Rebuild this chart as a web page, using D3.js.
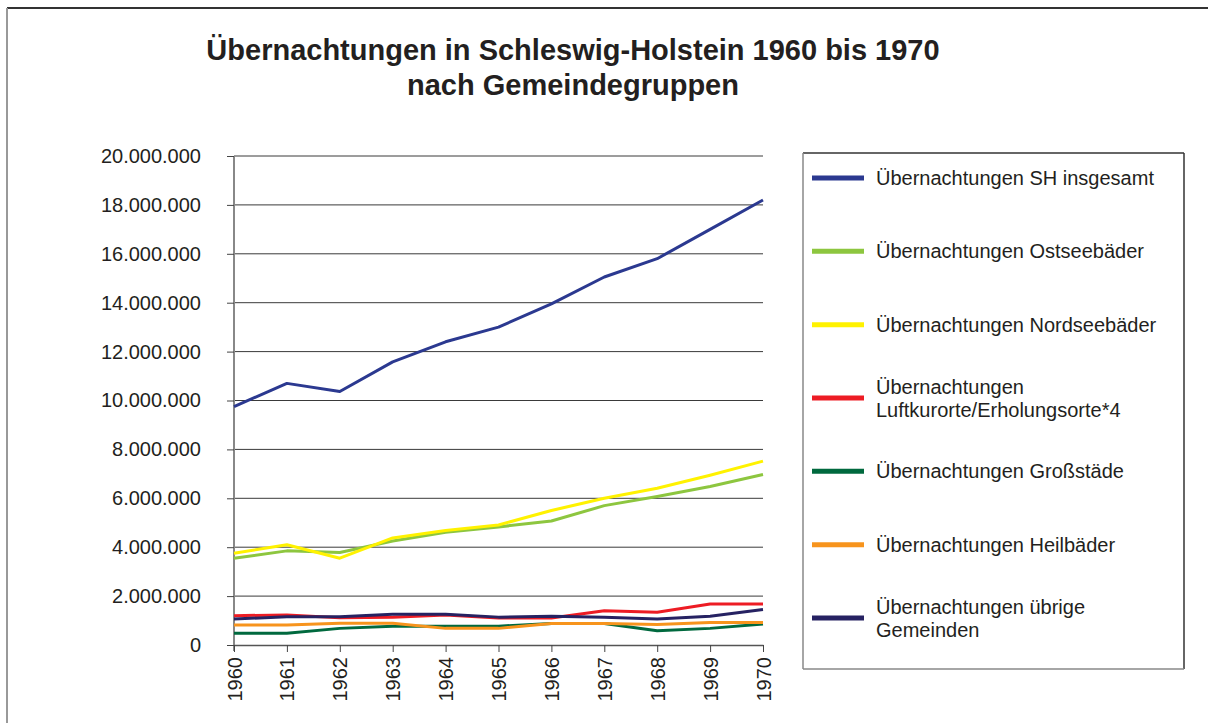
<!DOCTYPE html>
<html>
<head>
<meta charset="utf-8">
<script src="https://cdn.jsdelivr.net/npm/d3@7"></script>
<style>
  body { margin: 0; background: #fff; }
  svg text { font-family: "Liberation Sans", Arial, sans-serif; fill: #231f20; }
</style>
</head>
<body>
<div id="chart"></div>
<script>
const years = [1960, 1961, 1962, 1963, 1964, 1965, 1966, 1967, 1968, 1969, 1970];

const shInsgesamt = [9750000, 10700000, 10370000, 11580000, 12400000, 13000000, 13950000, 15050000, 15800000, 17000000, 18200000];
const ostseebaeder = [3550000, 3850000, 3780000, 4250000, 4610000, 4830000, 5070000, 5700000, 6070000, 6480000, 6970000];
const nordseebaeder = [3750000, 4100000, 3550000, 4380000, 4680000, 4910000, 5500000, 6000000, 6410000, 6940000, 7520000];
const luftkurorte = [1200000, 1230000, 1110000, 1130000, 1230000, 1100000, 1100000, 1400000, 1340000, 1680000, 1680000];
const grossstaedte = [480000, 480000, 680000, 770000, 770000, 770000, 880000, 880000, 580000, 680000, 860000];
const heilbaeder = [820000, 820000, 890000, 890000, 680000, 680000, 880000, 880000, 840000, 920000, 920000];
const uebrige = [1060000, 1160000, 1160000, 1260000, 1260000, 1140000, 1180000, 1130000, 1060000, 1180000, 1450000];

const yTicks = [0, 2000000, 4000000, 6000000, 8000000, 10000000, 12000000, 14000000, 16000000, 18000000, 20000000];

const seriesNames = [
  ['Übernachtungen SH insgesamt'],
  ['Übernachtungen Ostseebäder'],
  ['Übernachtungen Nordseebäder'],
  ['Übernachtungen', 'Luftkurorte/Erholungsorte*4'],
  ['Übernachtungen Großstäde'],
  ['Übernachtungen Heilbäder'],
  ['Übernachtungen übrige', 'Gemeinden'],
];
const seriesValues = [shInsgesamt, ostseebaeder, nordseebaeder, luftkurorte, grossstaedte, heilbaeder, uebrige];
const seriesColors = ['#2b3990', '#8dc63f', '#fff200', '#ed1c24', '#00693e', '#f7941d', '#262262'];

const size = { width: 1208, height: 723 };
const margin = { left: 234, top: 156, right: 445, bottom: 78 };

const svg = d3
  .select('#chart')
  .append('svg')
  .attr('width', size.width)
  .attr('height', size.height);

// outer frame (top and left only)
svg.append('line').attr('x1', 7).attr('x2', size.width).attr('y1', 8).attr('y2', 8)
  .attr('stroke', '#333').attr('stroke-width', 2);
svg.append('line').attr('x1', 7).attr('x2', 7).attr('y1', 8).attr('y2', size.height)
  .attr('stroke', '#999').attr('stroke-width', 2);

// title
const title = svg.append('text')
  .attr('x', 573)
  .attr('text-anchor', 'middle')
  .style('font-weight', 'bold')
  .style('font-size', '29px');
title.append('tspan').attr('x', 573).attr('y', 60).text('Übernachtungen in Schleswig-Holstein 1960 bis 1970');
title.append('tspan').attr('x', 573).attr('y', 95).text('nach Gemeindegruppen');

const x = d3
  .scalePoint()
  .domain(years)
  .range([margin.left, size.width - margin.right]);

const y = d3
  .scaleLinear()
  .domain([0, 20000000])
  .range([size.height - margin.bottom, margin.top]);

// gridlines
svg.append('g')
  .selectAll('line')
  .data(yTicks.slice(1))
  .enter()
  .append('line')
  .attr('x1', margin.left)
  .attr('x2', size.width - margin.right)
  .attr('y1', (d) => y(d))
  .attr('y2', (d) => y(d))
  .attr('stroke', '#3a3a3a')
  .attr('stroke-width', 1);

// y axis
const yAxis = svg.append('g')
  .attr('transform', `translate(${margin.left},0)`)
  .call(d3.axisLeft(y).tickValues(yTicks).tickSize(7).tickPadding(26)
    .tickFormat((d) => d3.format(',')(d).replace(/,/g, '.')));
yAxis.select('.domain').attr('stroke', '#888').attr('stroke-width', 2)
  .attr('d', `M0,${y(0) + 6}V${y(20000000)}`);
yAxis.selectAll('.tick line').attr('stroke', '#444');
yAxis.selectAll('.tick text').style('font-size', '20px').attr('fill', '#231f20')
  .style('font-family', '"Liberation Sans", Arial, sans-serif');

// x axis
const xAxis = svg.append('g')
  .attr('transform', `translate(0,${y(0)})`)
  .call(d3.axisBottom(x).tickSize(7).tickSizeOuter(0).tickPadding(0));
xAxis.select('.domain').attr('stroke', '#555').attr('stroke-width', 1.5);
xAxis.selectAll('.tick line').attr('stroke', '#444');
xAxis.selectAll('.tick text')
  .style('font-size', '20px')
  .attr('fill', '#231f20')
  .style('font-family', '"Liberation Sans", Arial, sans-serif')
  .attr('text-anchor', 'end')
  .attr('dy', '0.35em')
  .attr('transform', 'translate(0,12) rotate(-90)')
  .attr('x', 0)
  .attr('y', 0);

// series lines
const line = d3
  .line()
  .x((d, i) => x(years[i]))
  .y((d) => y(d));

svg.append('g')
  .selectAll('path')
  .data(seriesValues)
  .enter()
  .append('path')
  .attr('d', line)
  .attr('fill', 'none')
  .attr('stroke', (d, i) => seriesColors[i])
  .attr('stroke-width', 3)
  .attr('stroke-linejoin', 'round');

// legend
const legendBox = { x: 803, y: 153, w: 381, h: 516 };
svg.append('line').attr('x1', legendBox.x).attr('x2', legendBox.x + legendBox.w)
  .attr('y1', legendBox.y).attr('y2', legendBox.y).attr('stroke', '#333').attr('stroke-width', 1.5);
svg.append('line').attr('x1', legendBox.x + legendBox.w).attr('x2', legendBox.x + legendBox.w)
  .attr('y1', legendBox.y).attr('y2', legendBox.y + legendBox.h).attr('stroke', '#333').attr('stroke-width', 1.5);
svg.append('line').attr('x1', legendBox.x).attr('x2', legendBox.x)
  .attr('y1', legendBox.y).attr('y2', legendBox.y + legendBox.h).attr('stroke', '#888').attr('stroke-width', 1.5);
svg.append('line').attr('x1', legendBox.x).attr('x2', legendBox.x + legendBox.w)
  .attr('y1', legendBox.y + legendBox.h).attr('y2', legendBox.y + legendBox.h).attr('stroke', '#888').attr('stroke-width', 1.5);

const legendY = d3.scaleLinear().domain([0, 6]).range([178, 618]);

const items = svg.append('g')
  .selectAll('g')
  .data(seriesNames)
  .enter()
  .append('g')
  .attr('transform', (d, i) => `translate(0,${legendY(i)})`);

items.append('line')
  .attr('x1', 812)
  .attr('x2', 864)
  .attr('y1', 0)
  .attr('y2', 0)
  .attr('stroke', (d, i) => seriesColors[i])
  .attr('stroke-width', 5);

items.append('text')
  .style('font-size', '20px')
  .selectAll('tspan')
  .data((d) => d.map((t, j) => ({ t, j, n: d.length })))
  .enter()
  .append('tspan')
  .attr('x', 876)
  .attr('y', (d) => (d.j - (d.n - 1) / 2) * 23)
  .attr('dy', '0.35em')
  .text((d) => d.t);
</script>
</body>
</html>
